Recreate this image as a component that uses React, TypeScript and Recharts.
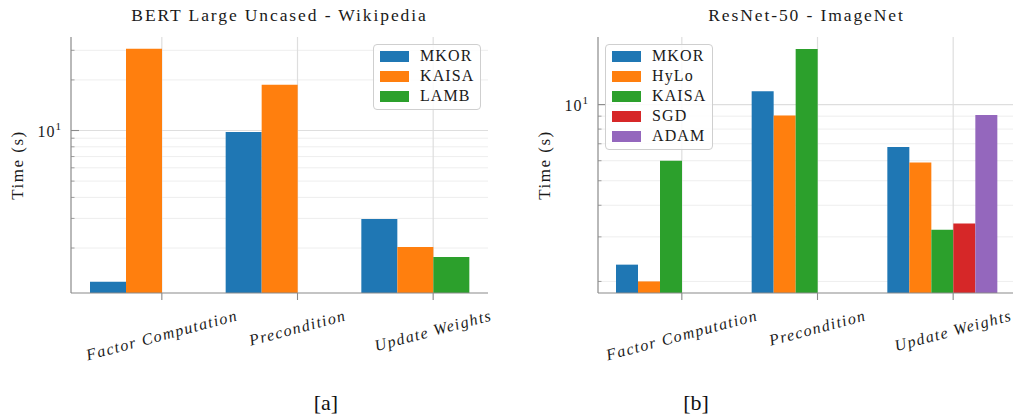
import React from 'react';
import { BarChart, Bar, XAxis, YAxis, CartesianGrid, Legend } from 'recharts';

// categories shared by both panels
const categories = ['Factor Computation', 'Precondition', 'Update Weights'];

// [a] BERT Large Uncased - Wikipedia (seconds)
const bertMkor = [1.26, 9.8, 2.98];
const bertKaisa = [30.6, 18.7, 2.03];
const bertLamb = [null, null, 1.77];
const bertTicks = [2, 3, 4, 5, 6, 7, 8, 9, 10, 20, 30];

// [b] ResNet-50 - ImageNet (seconds)
const resnetMkor = [2.33, 11.3, 6.8];
const resnetHylo = [2.0, 9.05, 5.9];
const resnetKaisa = [6.0, 16.6, 3.2];
const resnetSgd = [null, null, 3.39];
const resnetAdam = [null, null, 9.1];
const resnetTicks = [2, 3, 4, 5, 6, 7, 8, 9, 10];

const FONT = '"Liberation Serif", serif';
const AXIS = '#8a8a8a';
const GRID_MINOR = '#ececec';
const GRID_MAJOR = '#dedede';
const TEXT = '#1a1a1a';

const PLOT_TOP = 37;
const PLOT_BOTTOM = 293;
const PLOT_W = 417;
const Y_AXIS_W = 60;
const X_AXIS_H = 60;
const X_PAD = 5;
const H = 416;

const ROT = 15;
const LABEL_SIZE = 16;
const LABEL_SPACING = 1.4;
const LABEL_FONT = `italic ${LABEL_SIZE}px "Liberation Serif"`;

let ctx: CanvasRenderingContext2D | null = null;
const measure = (text: string, font: string) => {
  if (!ctx) ctx = document.createElement('canvas').getContext('2d');
  if (!ctx) return text.length * 8;
  ctx.font = font;
  return ctx.measureText(text).width;
};

const XTick = (props: any) => {
  const { x, payload, shift } = props;
  const tx = x + shift;
  const L = measure(payload.value, LABEL_FONT) + payload.value.length * LABEL_SPACING;
  const a = (ROT * Math.PI) / 180;
  const bboxH = L * Math.sin(a) + LABEL_SIZE * Math.cos(a);
  const cy = PLOT_BOTTOM + 14 + bboxH / 2;
  return (
    <g>
      <line x1={tx} x2={tx} y1={PLOT_BOTTOM} y2={PLOT_BOTTOM + 7} stroke={AXIS} strokeWidth={1.1} />
      <text
        transform={`translate(${tx},${cy}) rotate(${-ROT})`}
        textAnchor="middle"
        dominantBaseline="central"
        fontFamily={FONT}
        fontStyle="italic"
        fontSize={LABEL_SIZE}
        letterSpacing={LABEL_SPACING}
        fill={TEXT}
      >
        {payload.value}
      </text>
    </g>
  );
};

const YTick = (props: any) => {
  const { x, y, payload } = props;
  const major = payload.value === 10;
  const ax = x + 9;
  return (
    <g>
      <line x1={ax} x2={ax + (major ? 8 : 3.5)} y1={y} y2={y} stroke={AXIS} strokeWidth={major ? 1.1 : 0.8} />
      {major && (
        <text x={x} y={y + 6} textAnchor="end" fontFamily={FONT} fontSize={16} letterSpacing={1} fill={TEXT}>
          <tspan>10</tspan>
          <tspan dy={-7} fontSize={11}>1</tspan>
        </text>
      )}
    </g>
  );
};

const makeLegend = (order: string[]) => (props: any) => {
  const payload = [...(props.payload || [])].sort(
    (a: any, b: any) => order.indexOf(a.value) - order.indexOf(b.value),
  );
  return (
    <div
      style={{
        border: '1.5px solid #cfcfcf',
        borderRadius: 4,
        background: 'rgba(255,255,255,0.85)',
        padding: '1px 6px 3px 6px',
        fontFamily: FONT,
      }}
    >
      {payload.map((p: any) => (
        <div key={p.value} style={{ display: 'flex', alignItems: 'center', height: 20 }}>
          <span style={{ display: 'inline-block', width: 29, height: 11, background: p.color, marginRight: 11 }} />
          <span style={{ fontSize: 16, color: TEXT, letterSpacing: 1.1, lineHeight: '20px' }}>{p.value}</span>
        </div>
      ))}
    </div>
  );
};

type Series = { key: string; name: string; color: string; values: (number | null)[] };

const Panel = (props: {
  left: number;
  width: number;
  plotLeft: number;
  title: string;
  series: Series[];
  ticks: number[];
  domain: [number, number];
  barSize: number;
  legendLeft: number;
}) => {
  const { left, width, plotLeft, title, series, ticks, domain, barSize, legendLeft } = props;
  const data = categories.map((c, i) => {
    const row: any = { category: c };
    series.forEach((s) => (row[s.key] = s.values[i]));
    return row;
  });
  const band = (PLOT_W - 2 * X_PAD) / categories.length;
  const shift = barSize / 2;
  const vPoints = categories.map((_, i) => plotLeft + X_PAD + (i + 0.5) * band + shift);
  const majorIdx = ticks.indexOf(10);

  return (
    <div style={{ position: 'absolute', left, top: 0, width, height: H }}>
      <div
        style={{
          position: 'absolute',
          left: plotLeft - 20,
          width: PLOT_W + 40,
          top: 4,
          textAlign: 'center',
          fontSize: 17.5,
          letterSpacing: 1.9,
          lineHeight: '22px',
          color: TEXT,
          fontFamily: FONT,
          whiteSpace: 'nowrap',
        }}
      >
        {title}
      </div>
      <BarChart
        width={width}
        height={H}
        data={data}
        barGap={0}
        barCategoryGap={0}
        margin={{
          top: PLOT_TOP,
          left: plotLeft - Y_AXIS_W,
          right: width - plotLeft - PLOT_W,
          bottom: H - PLOT_BOTTOM - X_AXIS_H,
        }}
      >
        <CartesianGrid
          syncWithTicks
          verticalPoints={vPoints}
          vertical={(p: any) => (
            <line key={p.key} x1={p.x1} x2={p.x2} y1={p.y1} y2={p.y2} stroke={GRID_MAJOR} strokeWidth={1.2} />
          )}
          horizontal={(p: any) => (
            <line
              key={p.key}
              x1={p.x1}
              x2={p.x2}
              y1={p.y1}
              y2={p.y2}
              stroke={p.index === majorIdx ? GRID_MAJOR : GRID_MINOR}
              strokeWidth={p.index === majorIdx ? 1.2 : 0.9}
            />
          )}
        />
        <XAxis
          dataKey="category"
          height={X_AXIS_H}
          padding={{ left: X_PAD, right: X_PAD }}
          tickLine={false}
          tickSize={7}
          tickMargin={0}
          axisLine={{ stroke: AXIS, strokeWidth: 1.2 }}
          tick={(p: any) => <XTick {...p} shift={shift} />}
          interval={0}
        />
        <YAxis
          type="number"
          scale="log"
          domain={domain}
          allowDataOverflow
          ticks={ticks}
          width={Y_AXIS_W}
          tickLine={false}
          tickSize={0}
          tickMargin={9}
          axisLine={{ stroke: AXIS, strokeWidth: 1.2 }}
          tick={(p: any) => <YTick {...p} />}
          interval={0}
          label={{
            value: 'Time (s)',
            angle: -90,
            position: 'insideLeft',
            offset: 6,
            style: { fontFamily: FONT, fontSize: 17, letterSpacing: 1.5, fill: TEXT, textAnchor: 'middle' },
          }}
        />
        <Legend
          layout="vertical"
          align="center"
          verticalAlign="middle"
          content={makeLegend(series.map((s) => s.name))}
          wrapperStyle={{ left: legendLeft, top: 44, width: 'auto' }}
        />
        {series.map((s) => (
          <Bar key={s.key} dataKey={s.key} name={s.name} fill={s.color} barSize={barSize} isAnimationActive={false} />
        ))}
      </BarChart>
    </div>
  );
};

const bertSeries: Series[] = [
  { key: 'mkor', name: 'MKOR', color: '#1f77b4', values: bertMkor },
  { key: 'kaisa', name: 'KAISA', color: '#ff7f0e', values: bertKaisa },
  { key: 'lamb', name: 'LAMB', color: '#2ca02c', values: bertLamb },
];

const resnetSeries: Series[] = [
  { key: 'mkor', name: 'MKOR', color: '#1f77b4', values: resnetMkor },
  { key: 'hylo', name: 'HyLo', color: '#ff7f0e', values: resnetHylo },
  { key: 'kaisa', name: 'KAISA', color: '#2ca02c', values: resnetKaisa },
  { key: 'sgd', name: 'SGD', color: '#d62728', values: resnetSgd },
  { key: 'adam', name: 'ADAM', color: '#9467bd', values: resnetAdam },
];

const captionStyle: React.CSSProperties = {
  position: 'absolute',
  top: 390,
  width: 80,
  textAlign: 'center',
  fontFamily: '"Liberation Serif", serif',
  fontSize: 22,
  lineHeight: '26px',
  color: '#111',
};

export default function App() {
  return (
    <div
      style={{
        position: 'absolute',
        left: 0,
        top: 0,
        width: 1013,
        height: H,
        overflow: 'hidden',
        background: '#fff',
      }}
    >
      <Panel
        left={0}
        width={500}
        plotLeft={71}
        title="BERT Large Uncased - Wikipedia"
        series={bertSeries}
        ticks={bertTicks}
        domain={[1.08, 36]}
        barSize={36}
        legendLeft={373}
      />
      <Panel
        left={500}
        width={515}
        plotLeft={98}
        title="ResNet-50 - ImageNet"
        series={resnetSeries}
        ticks={resnetTicks}
        domain={[1.8, 18.5]}
        barSize={22}
        legendLeft={105}
      />
      <div style={{ ...captionStyle, left: 326 - 40 }}>[a]</div>
      <div style={{ ...captionStyle, left: 696 - 40 }}>[b]</div>
    </div>
  );
}
